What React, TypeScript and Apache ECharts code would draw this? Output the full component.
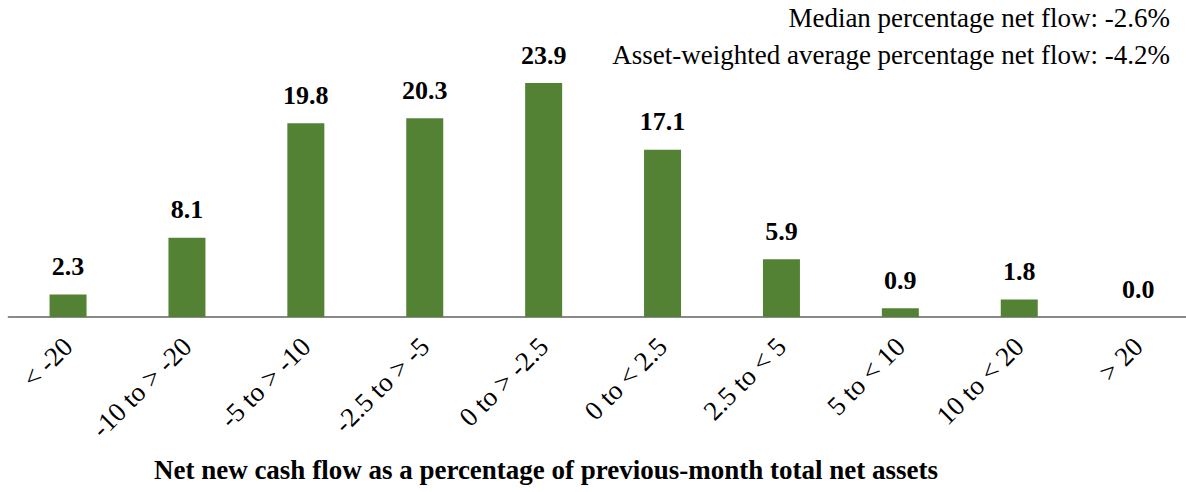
import React, { useEffect, useRef } from "react";
import * as echarts from "echarts";

const categories = ["< -20", "-10 to > -20", "-5 to > -10", "-2.5 to > -5", "0 to > -2.5", "0 to < 2.5", "2.5 to < 5", "5 to < 10", "10 to < 20", "> 20"];
const values = [2.3, 8.1, 19.8, 20.3, 23.9, 17.1, 5.9, 0.9, 1.8, 0.0];
const notes = ["Median percentage net flow: -2.6%", "Asset-weighted average percentage net flow: -4.2%"];
const axisTitle = "Net new cash flow as a percentage of previous-month total net assets";

const FONT = "Liberation Serif, DejaVu Serif, Times New Roman, serif";

export default function App() {
  const ref = useRef<HTMLDivElement>(null);
  useEffect(() => {
    document.body.style.margin = "0";
    const chart = echarts.init(ref.current!, null, { renderer: "svg" });
    chart.setOption({
      animation: false,
      textStyle: { fontFamily: FONT },
      grid: { left: 8.6, width: 1189, top: 72.3, bottom: 175, outerBoundsMode: "none", containLabel: false },
      xAxis: {
        type: "category",
        data: categories,
        axisLine: { lineStyle: { color: "#898989", width: 2 } },
        axisTick: { show: false },
        axisLabel: { rotate: 45, color: "#000", fontFamily: FONT, fontSize: 27, margin: 25, interval: 0 },
      },
      yAxis: { type: "value", min: 0, max: 25, show: false, splitLine: { show: false } },
      series: [
        {
          type: "bar",
          data: values,
          barWidth: 37,
          itemStyle: { color: "#548235" },
          label: {
            show: true,
            position: "top",
            distance: 15,
            color: "#000",
            fontFamily: FONT,
            fontWeight: "bold",
            fontSize: 26,
            formatter: (p: any) => Number(p.value).toFixed(1),
          },
        },
      ],
      graphic: [
        { type: "text", right: 16, top: 4, style: { text: notes[0], fontFamily: FONT, fontSize: 27, fill: "#000", textAlign: "right" } },
        { type: "text", right: 16, top: 41, style: { text: notes[1], fontFamily: FONT, fontSize: 27, fill: "#000", textAlign: "right" } },
        { type: "text", x: 546, y: 470, style: { text: axisTitle, fontFamily: FONT, fontSize: 27, fontWeight: "bold", fill: "#000", textAlign: "center", textVerticalAlign: "middle" } },
      ],
    });
    return () => chart.dispose();
  }, []);
  return <div ref={ref} style={{ width: 1186, height: 492 }} />;
}
